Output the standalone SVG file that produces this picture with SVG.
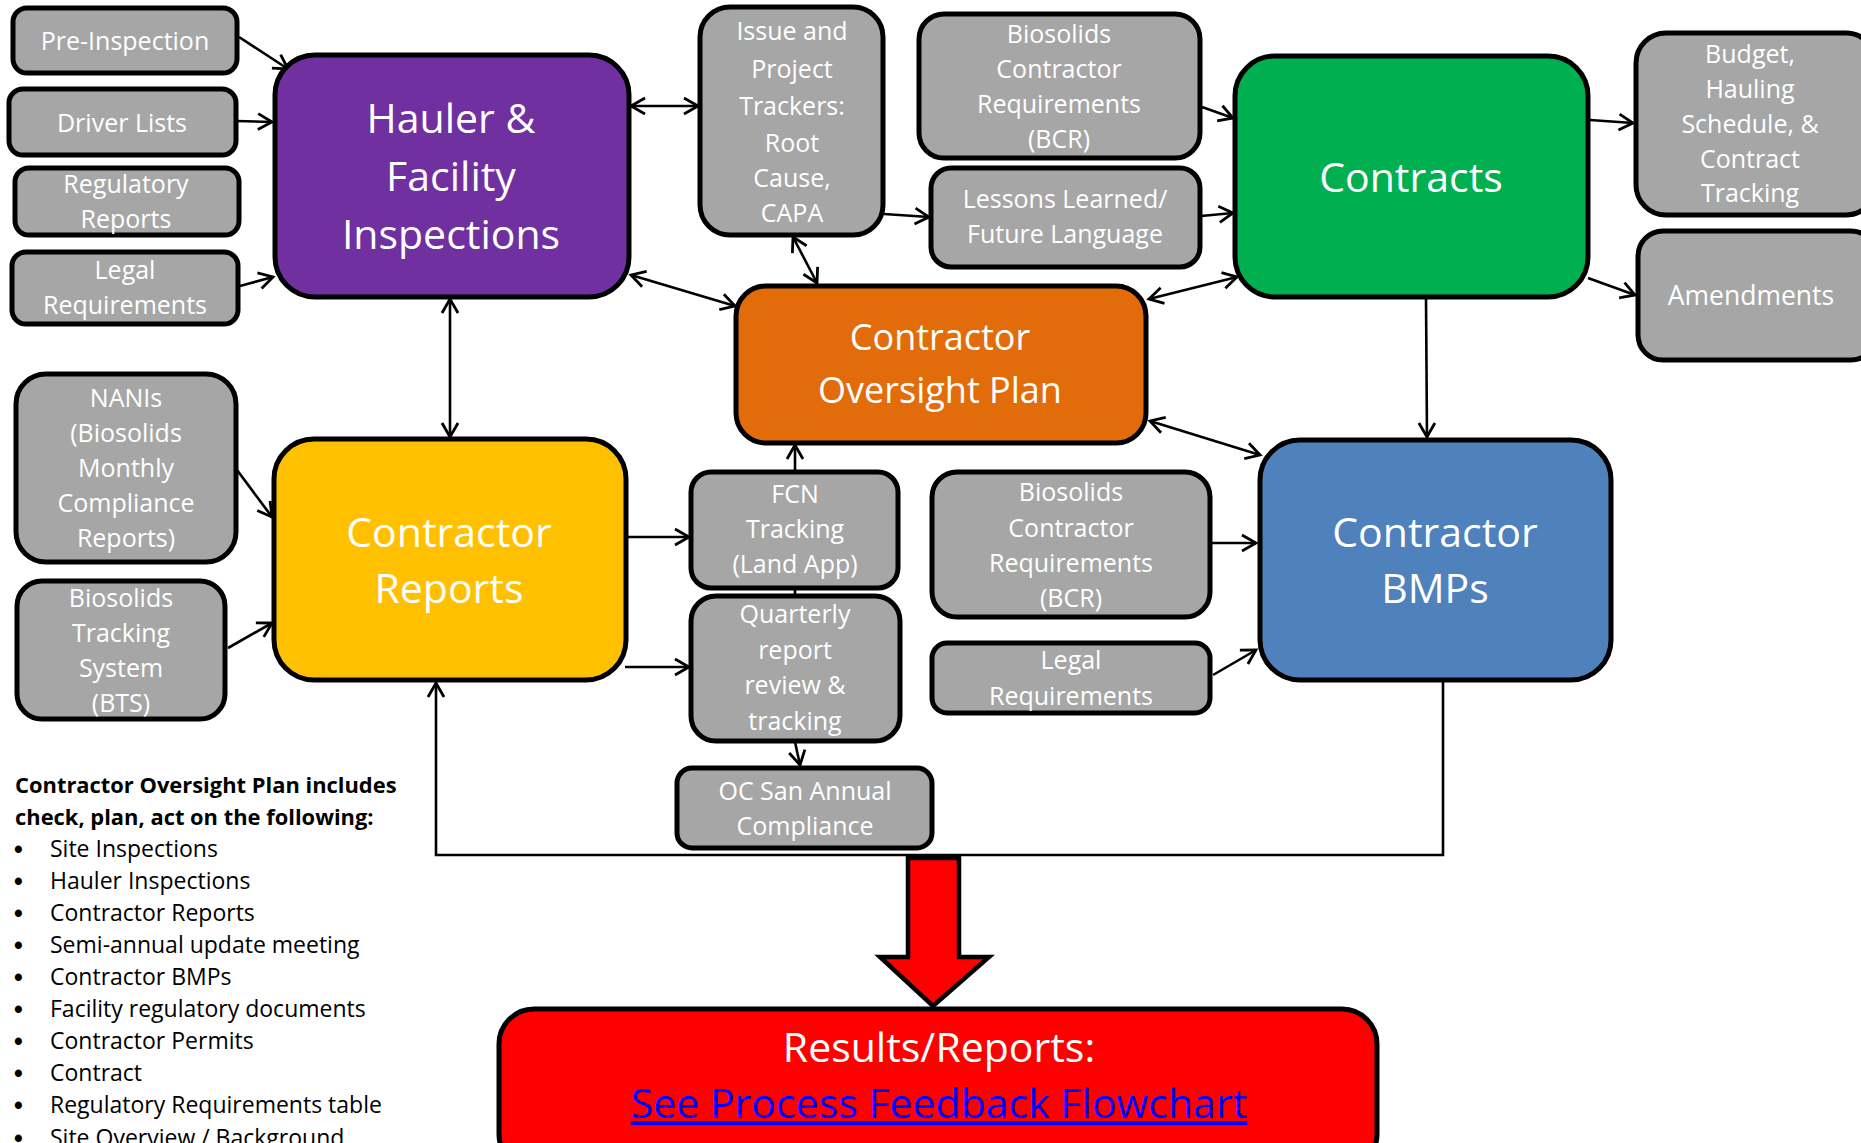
<svg xmlns="http://www.w3.org/2000/svg" width="1861" height="1143" viewBox="0 0 1861 1143">
<style>
.box{stroke:#000;stroke-width:5}
.gray{fill:#A6A6A6}
.t{fill:#fff;font-family:"Open Sans","Liberation Sans",sans-serif;font-size:25px;text-anchor:middle}
.big{font-size:41px}
.mid{font-size:36px}
.c{stroke:#000;stroke-width:2.6;fill:none}
.lst{fill:#000;font-family:"Open Sans","Liberation Sans",sans-serif;font-size:23px}
.b{font-size:25px;font-weight:bold;font-family:"Liberation Sans",sans-serif}
.hdr{fill:#000;font-family:"Open Sans","Liberation Sans",sans-serif;font-size:21.9px;font-weight:bold}
</style>
<defs>
<marker id="ah" markerUnits="userSpaceOnUse" markerWidth="20" markerHeight="20" refX="14" refY="8" orient="auto-start-reverse" overflow="visible">
<path d="M0,0 L14,8 L0,16" fill="none" stroke="#000" stroke-width="2.8"/>
</marker>
</defs>
<rect width="1861" height="1143" fill="#fff"/>

<g id="connectors">
<line class="c" x1="239" y1="37" x2="288" y2="69" marker-end="url(#ah)"/>
<line class="c" x1="237" y1="121" x2="272" y2="122" marker-end="url(#ah)"/>
<line class="c" x1="240" y1="286" x2="273" y2="277" marker-end="url(#ah)"/>
<line class="c" x1="631" y1="106" x2="698" y2="106" marker-start="url(#ah)" marker-end="url(#ah)"/>
<line class="c" x1="631" y1="275" x2="735" y2="306" marker-start="url(#ah)" marker-end="url(#ah)"/>
<line class="c" x1="450" y1="299" x2="450" y2="437" marker-start="url(#ah)" marker-end="url(#ah)"/>
<line class="c" x1="884" y1="214" x2="929" y2="217" marker-end="url(#ah)"/>
<line class="c" x1="793" y1="237" x2="817" y2="283" marker-start="url(#ah)" marker-end="url(#ah)"/>
<line class="c" x1="1202" y1="107" x2="1233" y2="118" marker-end="url(#ah)"/>
<line class="c" x1="1201" y1="216" x2="1233" y2="213" marker-end="url(#ah)"/>
<line class="c" x1="1149" y1="299" x2="1237" y2="277" marker-start="url(#ah)" marker-end="url(#ah)"/>
<line class="c" x1="1590" y1="120" x2="1633" y2="123" marker-end="url(#ah)"/>
<line class="c" x1="1588" y1="278" x2="1635" y2="295" marker-end="url(#ah)"/>
<line class="c" x1="1426" y1="298" x2="1427" y2="437" marker-end="url(#ah)"/>
<line class="c" x1="1150" y1="421" x2="1260" y2="455" marker-start="url(#ah)" marker-end="url(#ah)"/>
<line class="c" x1="237" y1="470" x2="272" y2="517" marker-end="url(#ah)"/>
<line class="c" x1="228" y1="648" x2="272" y2="623" marker-end="url(#ah)"/>
<line class="c" x1="627" y1="537" x2="689" y2="537" marker-end="url(#ah)"/>
<line class="c" x1="625" y1="667" x2="689" y2="667" marker-end="url(#ah)"/>
<line class="c" x1="795" y1="471" x2="795" y2="445" marker-end="url(#ah)"/>
<line class="c" x1="795" y1="588" x2="795" y2="596"/>
<line class="c" x1="795" y1="742" x2="800" y2="765" marker-end="url(#ah)"/>
<line class="c" x1="1211" y1="543" x2="1256" y2="543" marker-end="url(#ah)"/>
<line class="c" x1="1213" y1="675" x2="1256" y2="650" marker-end="url(#ah)"/>
<polyline class="c" points="1443,681 1443,855 436,855 436,683" marker-end="url(#ah)"/>
<polygon points="908,858 959,858 959,957 989,957 933,1006 880,957 908,957" fill="#FF0000" stroke="#000" stroke-width="4.5" stroke-linejoin="miter"/>
</g>

<g id="pre-inspection"><rect class="box gray" x="13" y="8" width="224" height="65" rx="14"/><text class="t" x="125" y="50">Pre-Inspection</text></g>
<g id="driver-lists"><rect class="box gray" x="9" y="89" width="227" height="66" rx="14"/><text class="t" x="122" y="132">Driver Lists</text></g>
<g id="regulatory-reports"><rect class="box gray" x="15" y="168" width="224" height="67" rx="14"/><text class="t" x="126" y="193">Regulatory</text><text class="t" x="126" y="228">Reports</text></g>
<g id="legal-requirements"><rect class="box gray" x="12" y="252" width="226" height="72" rx="14"/><text class="t" x="125" y="279">Legal</text><text class="t" x="125" y="314">Requirements</text></g>

<g id="hauler"><rect class="box" fill="#7030A0" x="275" y="55" width="354" height="242" rx="40"/><text class="t big" x="451" y="133">Hauler &amp;</text><text class="t big" x="451" y="191">Facility</text><text class="t big" x="451" y="249">Inspections</text></g>

<g id="issue-trackers"><rect class="box gray" x="700" y="7" width="183" height="228" rx="30"/><text class="t" x="792" y="40">Issue and</text><text class="t" x="792" y="78">Project</text><text class="t" x="792" y="115">Trackers:</text><text class="t" x="792" y="152">Root</text><text class="t" x="792" y="187">Cause,</text><text class="t" x="792" y="222">CAPA</text></g>

<g id="bcr-top"><rect class="box gray" x="919" y="14" width="281" height="144" rx="25"/><text class="t" x="1059" y="43">Biosolids</text><text class="t" x="1059" y="78">Contractor</text><text class="t" x="1059" y="113">Requirements</text><text class="t" x="1059" y="148">(BCR)</text></g>

<g id="lessons-learned"><rect class="box gray" x="931" y="168" width="269" height="99" rx="20"/><text class="t" x="1065" y="208">Lessons Learned/</text><text class="t" x="1065" y="243">Future Language</text></g>

<g id="contracts"><rect class="box" fill="#00B050" x="1235" y="56" width="353" height="241" rx="40"/><text class="t big" x="1411" y="192">Contracts</text></g>

<g id="budget"><rect class="box gray" x="1636" y="33" width="240" height="182" rx="30"/><text class="t" x="1750" y="63">Budget,</text><text class="t" x="1750" y="98">Hauling</text><text class="t" x="1750" y="133">Schedule,  &amp;</text><text class="t" x="1750" y="168">Contract</text><text class="t" x="1750" y="202">Tracking</text></g>

<g id="amendments"><rect class="box gray" x="1638" y="231" width="238" height="129" rx="25"/><text class="t" x="1751" y="305" style="font-size:26.5px">Amendments</text></g>

<g id="oversight-plan"><rect class="box" fill="#E36C0A" x="736" y="286" width="410" height="157" rx="30"/><text class="t mid" x="940" y="350">Contractor</text><text class="t mid" x="940" y="403">Oversight Plan</text></g>

<g id="nanis"><rect class="box gray" x="16" y="374" width="220" height="188" rx="30"/><text class="t" x="126" y="407">NANIs</text><text class="t" x="126" y="442">(Biosolids</text><text class="t" x="126" y="477">Monthly</text><text class="t" x="126" y="512">Compliance</text><text class="t" x="126" y="547">Reports)</text></g>

<g id="bts"><rect class="box gray" x="17" y="581" width="208" height="138" rx="25"/><text class="t" x="121" y="607">Biosolids</text><text class="t" x="121" y="642">Tracking</text><text class="t" x="121" y="677">System</text><text class="t" x="121" y="712">(BTS)</text></g>

<g id="contractor-reports"><rect class="box" fill="#FFC000" x="274" y="439" width="352" height="241" rx="40"/><text class="t big" x="449" y="547">Contractor</text><text class="t big" x="449" y="603">Reports</text></g>

<g id="fcn-tracking"><rect class="box gray" x="691" y="472" width="207" height="116" rx="20"/><text class="t" x="795" y="503">FCN</text><text class="t" x="795" y="538">Tracking</text><text class="t" x="795" y="573">(Land App)</text></g>

<g id="quarterly-review"><rect class="box gray" x="691" y="596" width="209" height="145" rx="25"/><text class="t" x="795" y="623">Quarterly</text><text class="t" x="795" y="659">report</text><text class="t" x="795" y="694">review &amp;</text><text class="t" x="795" y="730">tracking</text></g>

<g id="oc-san-compliance"><rect class="box gray" x="677" y="768" width="255" height="80" rx="15"/><text class="t" x="805" y="800">OC San Annual</text><text class="t" x="805" y="835">Compliance</text></g>

<g id="bcr-lower"><rect class="box gray" x="932" y="472" width="278" height="145" rx="25"/><text class="t" x="1071" y="501">Biosolids</text><text class="t" x="1071" y="537">Contractor</text><text class="t" x="1071" y="572">Requirements</text><text class="t" x="1071" y="607">(BCR)</text></g>

<g id="legal-lower"><rect class="box gray" x="932" y="643" width="278" height="70" rx="15"/><text class="t" x="1071" y="669">Legal</text><text class="t" x="1071" y="705">Requirements</text></g>

<g id="contractor-bmps"><rect class="box" fill="#4F81BD" x="1260" y="440" width="351" height="240" rx="40"/><text class="t big" x="1435" y="547">Contractor</text><text class="t big" x="1435" y="603">BMPs</text></g>

<g id="results-reports"><rect class="box" fill="#FF0000" x="499" y="1009" width="878" height="160" rx="35"/><text class="t big" x="939" y="1062">Results/Reports:</text><text class="t big" x="939" y="1118" style="fill:#0000FF;text-decoration:underline">See Process Feedback Flowchart</text></g>

<g id="oversight-list">
<text class="hdr" x="15" y="793">Contractor Oversight Plan includes</text>
<text class="hdr" x="15" y="825">check, plan, act on the following:</text>
<text class="lst"><tspan class="b" x="14" y="858">•</tspan><tspan x="50" y="857">Site Inspections</tspan></text>
<text class="lst"><tspan class="b" x="14" y="890">•</tspan><tspan x="50" y="889">Hauler Inspections</tspan></text>
<text class="lst"><tspan class="b" x="14" y="922">•</tspan><tspan x="50" y="921">Contractor Reports</tspan></text>
<text class="lst"><tspan class="b" x="14" y="954">•</tspan><tspan x="50" y="953">Semi-annual update meeting</tspan></text>
<text class="lst"><tspan class="b" x="14" y="986">•</tspan><tspan x="50" y="985">Contractor BMPs</tspan></text>
<text class="lst"><tspan class="b" x="14" y="1018">•</tspan><tspan x="50" y="1017">Facility regulatory documents</tspan></text>
<text class="lst"><tspan class="b" x="14" y="1050">•</tspan><tspan x="50" y="1049">Contractor Permits</tspan></text>
<text class="lst"><tspan class="b" x="14" y="1082">•</tspan><tspan x="50" y="1081">Contract</tspan></text>
<text class="lst"><tspan class="b" x="14" y="1114">•</tspan><tspan x="50" y="1113">Regulatory Requirements table</tspan></text>
<text class="lst"><tspan class="b" x="14" y="1147">•</tspan><tspan x="50" y="1146">Site Overview / Background</tspan></text>
</g>
</svg>
